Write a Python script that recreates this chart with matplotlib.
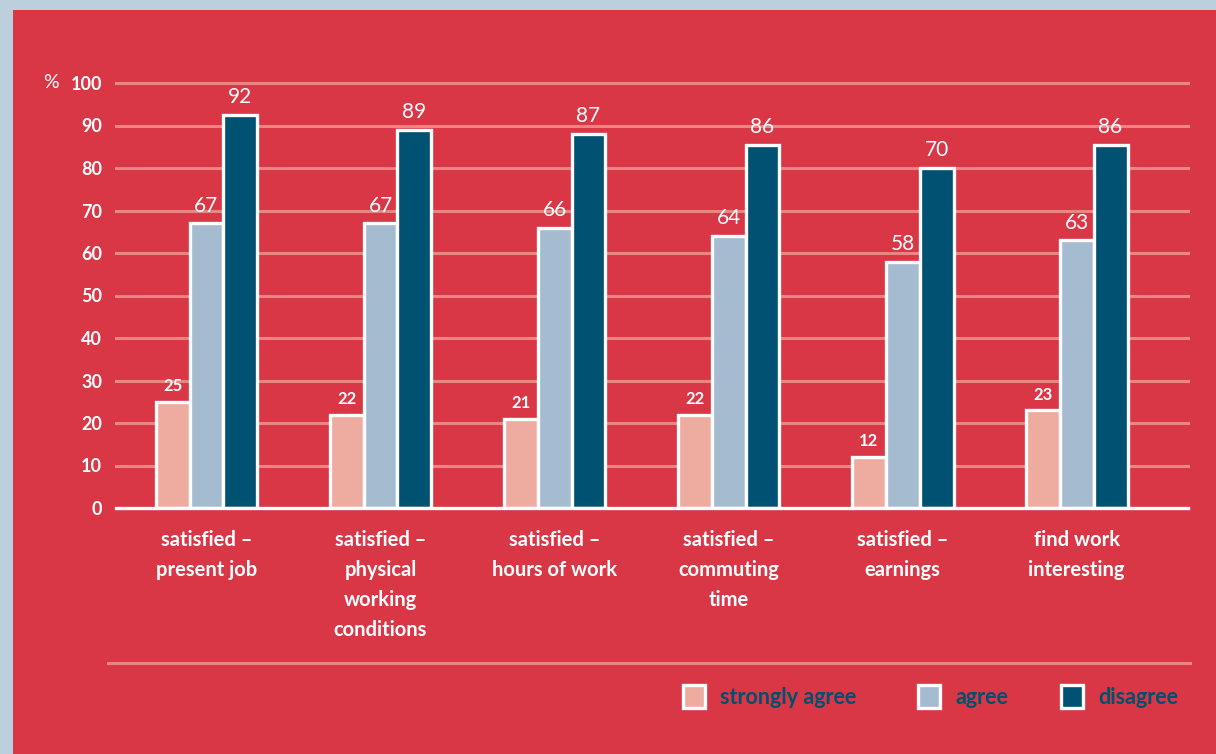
import numpy as np
import matplotlib.pyplot as plt
from matplotlib.patches import Rectangle
from matplotlib.lines import Line2D

categories = ["satisfied –\npresent job",
              "satisfied –\nphysical\nworking\nconditions",
              "satisfied –\nhours of work",
              "satisfied –\ncommuting\ntime",
              "satisfied –\nearnings",
              "find work\ninteresting"]
series_names = ["strongly agree", "agree", "disagree"]
strongly_agree = [25, 22, 21, 22, 12, 23]
agree = [67, 67, 66, 64, 58, 63]
disagree = [92.5, 89, 88, 85.5, 80, 85.5]
# printed labels (the earnings bar is labelled 70 in the source)
label_sa = ["25", "22", "21", "22", "12", "23"]
label_ag = ["67", "67", "66", "64", "58", "63"]
label_di = ["92", "89", "87", "86", "70", "86"]
yticks = [0, 10, 20, 30, 40, 50, 60, 70, 80, 90, 100]

RED = "#d93646"
BORDER = "#bccfdc"
GRID = "#e98684"
COLORS = ["#eeaba0", "#a5bbcf", "#005172"]
NAVY = "#00506e"

plt.rcParams['font.family'] = ['Lato', 'DejaVu Sans']

fig = plt.figure(figsize=(12.16, 7.54), dpi=100)
fig.patch.set_facecolor(BORDER)
fig.patches.append(Rectangle((13/1216, 0), 1, (754-10)/754, transform=fig.transFigure,
                             facecolor=RED, edgecolor="none", zorder=-10))

ax = fig.add_axes([116/1216, 246/754, 1072/1216, 425/754])
ax.set_facecolor("none")
for s in ax.spines.values():
    s.set_visible(False)
ax.set_xlim(-0.52, 5.64)
ax.set_ylim(0, 100)

for y in yticks[1:]:
    ax.axhline(y, color=GRID, lw=2.2, zorder=1, clip_on=False)
ax.axhline(0, color="white", lw=2.4, zorder=4, clip_on=False)

x = np.arange(len(categories))
w = 0.195
all_vals = [strongly_agree, agree, disagree]
all_labels = [label_sa, label_ag, label_di]
for i, (vals, labs) in enumerate(zip(all_vals, all_labels)):
    xs = x + (i - 1) * w
    ax.bar(xs, vals, width=w, color=COLORS[i], edgecolor="white", linewidth=2.4, zorder=3)
    for xx, v, t in zip(xs, vals, labs):
        ax.text(xx, v + 1.8, t, ha="center", va="bottom", color="white",
                fontsize=12 if i == 0 else 15, fontweight="bold" if i == 0 else "normal", zorder=5)

ax.set_yticks(yticks)
ax.set_yticklabels([str(t) for t in yticks], fontsize=13, fontweight="bold", color="white")
ax.tick_params(axis="y", length=0, pad=10)
ax.set_xticks([])
ax.text(-0.053, 100, "%", transform=ax.get_yaxis_transform(), ha="right", va="center",
        color="white", fontsize=14)

for xx, c in zip(x, categories):
    ax.text(xx, -5.2, c, ha="center", va="top", color="white", fontsize=14.5,
            fontweight="bold", linespacing=1.62)

# separator line
fig.add_artist(Line2D([108/1216, 1190/1216], [(754-663)/754] * 2, color=GRID, lw=2.2))

# legend
leg_x = [683, 918, 1061]
for lx, name, col in zip(leg_x, series_names, COLORS):
    fig.patches.append(Rectangle((lx/1216, (754-708)/754), 22/1216, 23/754,
                                 transform=fig.transFigure, facecolor=col,
                                 edgecolor="white", linewidth=2.4, zorder=3))
    fig.text((lx + 37)/1216, (754-697)/754, name, color=NAVY, fontsize=15.5,
             fontweight="bold", va="center", ha="left")

fig.savefig("out.png", dpi=100, facecolor=fig.get_facecolor())
